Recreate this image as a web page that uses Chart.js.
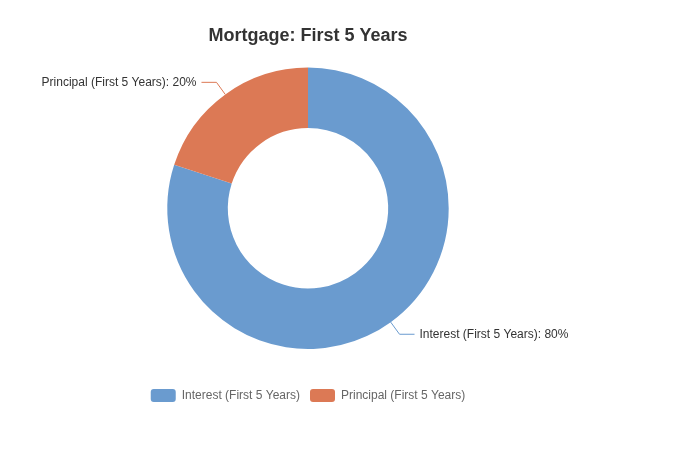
<!DOCTYPE html>
<html><head><meta charset="utf-8">
<script src="https://cdn.jsdelivr.net/npm/chart.js@4"></script>
<style>html,body{margin:0;padding:0;background:#fff}#wrap{width:700px;height:450px}</style>
</head><body><div id="wrap"><canvas id="c"></canvas></div>
<script>
const categories = ["Interest (First 5 Years)", "Principal (First 5 Years)"];
const values = [80, 20];
const colors = ["#6a9bcf", "#dc7955"];
const chartTitle = "Mortgage: First 5 Years";

const labelPlugin = {
  id: 'outLabels',
  afterDatasetsDraw(chart) {
    const ctx = chart.ctx;
    const meta = chart.getDatasetMeta(0);
    const total = values.reduce((a, b) => a + b, 0);
    ctx.save();
    ctx.font = '12px "Liberation Sans", Arial, sans-serif';
    ctx.textBaseline = 'middle';
    meta.data.forEach((arc, i) => {
      const mid = (arc.startAngle + arc.endAngle) / 2;
      const r = arc.outerRadius;
      const x0 = arc.x + Math.cos(mid) * r, y0 = arc.y + Math.sin(mid) * r;
      const x1 = arc.x + Math.cos(mid) * (r + 15), y1 = arc.y + Math.sin(mid) * (r + 15);
      const right = Math.cos(mid) >= 0;
      const x2 = x1 + (right ? 15 : -15);
      ctx.strokeStyle = colors[i];
      ctx.lineWidth = 1;
      ctx.beginPath();
      ctx.moveTo(x0, y0); ctx.lineTo(x1, y1); ctx.lineTo(x2, y1);
      ctx.stroke();
      ctx.fillStyle = '#333';
      ctx.textAlign = right ? 'left' : 'right';
      const pct = Math.round(values[i] / total * 100);
      ctx.fillText(categories[i] + ': ' + pct + '%', x2 + (right ? 5 : -5), y1);
    });
    ctx.restore();
  }
};

new Chart(document.getElementById('c'), {
  type: 'doughnut',
  data: {
    labels: categories,
    datasets: [{ data: values, backgroundColor: colors, borderWidth: 0, hoverOffset: 0 }]
  },
  options: {
    responsive: true,
    maintainAspectRatio: false,
    animation: false,
    cutout: '57%',
    layout: { padding: { top: 0, right: 84, bottom: 38, left: 0 } },
    plugins: {
      title: {
        display: true, text: chartTitle, color: '#333',
        font: { size: 18, weight: 'bold', family: '"Liberation Sans", Arial, sans-serif' },
        padding: { top: 25, bottom: 21 }
      },
      legend: {
        position: 'bottom',
        title: { display: true, text: ' ', font: { size: 12 }, padding: { top: 0, bottom: 15.6 } },
        labels: {
          color: '#666', boxWidth: 25, boxHeight: 13, useBorderRadius: true, borderRadius: 3,
          font: { size: 12, family: '"Liberation Sans", Arial, sans-serif' }
        }
      },
      tooltip: { enabled: false }
    }
  },
  plugins: [labelPlugin]
});
</script></body></html>
